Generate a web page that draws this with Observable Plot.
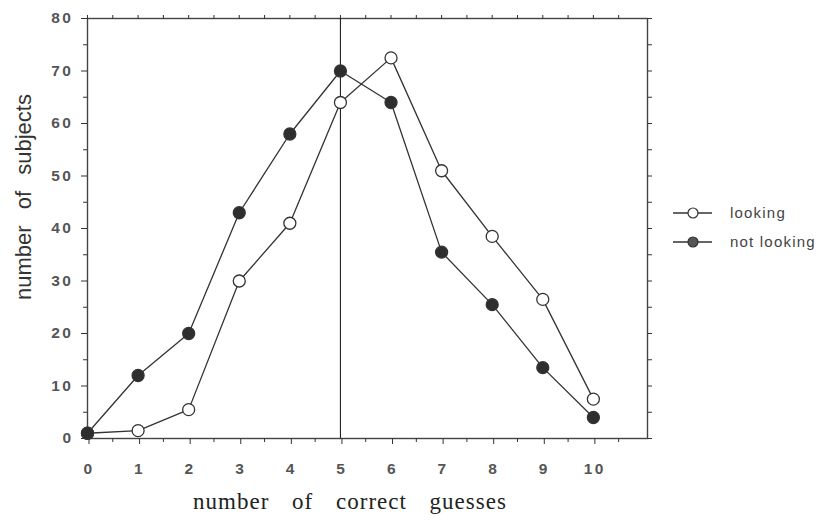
<!DOCTYPE html>
<html>
<head>
<meta charset="utf-8">
<script src="https://cdn.jsdelivr.net/npm/d3@7"></script>
<script src="https://cdn.jsdelivr.net/npm/@observablehq/plot@0.6"></script>
<style>
  html, body { margin: 0; padding: 0; background: #fff; }
  #wrap { position: relative; width: 817px; height: 520px; overflow: hidden; }
  #wrap svg.plot text { letter-spacing: 2.5px; }
  .lab { position: absolute; white-space: nowrap; color: #222; }
  .xlab { font-family: "Liberation Serif", "Times New Roman", serif; font-size: 23px; word-spacing: 16px; letter-spacing: 1px; }
  .ylab { font-family: "Liberation Sans", Arial, sans-serif; font-size: 22px; word-spacing: 10px; color: #333; }
</style>
</head>
<body>
<div id="wrap"></div>
<script>
const guesses = [0, 1, 2, 3, 4, 5, 6, 7, 8, 9, 10];
const looking = [1, 1.5, 5.5, 30, 41, 64, 72.5, 51, 38.5, 26.5, 7.5];
const notLooking = [1, 12, 20, 43, 58, 70, 64, 35.5, 25.5, 13.5, 4];
const seriesNames = ["looking", "not looking"];
const xTickLabels = [0, 1, 2, 3, 4, 5, 6, 7, 8, 9, 10];
const yTickLabels = [0, 10, 20, 30, 40, 50, 60, 70, 80];
const chanceLevel = [5];

const rowsLooking = guesses.map((g, i) => ({g, v: looking[i]}));
const rowsNot = guesses.map((g, i) => ({g, v: notLooking[i]}));
const halfTicks = d3.range(0, 11.01, 0.5).filter(d => d % 1 !== 0);
const yMinor = d3.range(5, 80, 10);
const yFive = d3.range(0, 80.1, 5);

const ink = "#333";
const tickFont = {fontFamily: "Liberation Sans, Arial, sans-serif", fontSize: 15.5, fontWeight: "bold", fill: "#555"};

const chart = Plot.plot({
  width: 817,
  height: 520,
  marginLeft: 87,
  marginRight: 170,
  marginTop: 18,
  marginBottom: 82,
  x: {domain: [0, 11.07]},
  y: {domain: [0, 80]},
  style: {background: "white", color: ink},
  marks: [
    Plot.frame({stroke: "#444", strokeWidth: 1.4}),
    Plot.axisY({ticks: yTickLabels, tickSize: 6, tickPadding: 8, label: null, ...tickFont}),
    Plot.axisY({ticks: yMinor, tickSize: 4, text: null, label: null}),
    Plot.axisY({anchor: "right", ticks: yFive, tickSize: 4, text: null, label: null}),
    Plot.axisX({ticks: xTickLabels, tickSize: 6, tickPadding: 18, label: null, dx: 1.5, ...tickFont}),
    Plot.axisX({ticks: halfTicks, tickSize: 4, text: null, label: null}),
    Plot.axisX({anchor: "top", ticks: xTickLabels.concat(halfTicks), tickSize: 4, text: null, label: null}),
    Plot.ruleX(chanceLevel, {stroke: "#222", strokeWidth: 1.1}),
    Plot.line(rowsLooking, {x: "g", y: "v", stroke: ink, strokeWidth: 1.3}),
    Plot.line(rowsNot, {x: "g", y: "v", stroke: ink, strokeWidth: 1.3}),
    Plot.dot(rowsLooking, {x: "g", y: "v", r: 6, fill: "white", stroke: ink, strokeWidth: 1.3}),
    Plot.dot(rowsNot, {x: "g", y: "v", r: 6, fill: "#2e2e2e", stroke: ink, strokeWidth: 1.3})
  ]
});
chart.classList.add("plot");
const wrap = document.getElementById("wrap");
wrap.appendChild(chart);

// axis titles
const xl = document.createElement("div");
xl.className = "lab xlab";
xl.textContent = "number of correct guesses";
xl.style.left = "350px"; xl.style.top = "489px"; xl.style.transform = "translateX(-50%)";
wrap.appendChild(xl);

const yl = document.createElement("div");
yl.className = "lab ylab";
yl.textContent = "number of subjects";
yl.style.left = "24px"; yl.style.top = "197px"; yl.style.transform = "translate(-50%, -50%) rotate(-90deg)";
wrap.appendChild(yl);

// legend
const leg = d3.select(wrap).append("svg")
  .attr("width", 153).attr("height", 70)
  .style("position", "absolute").style("left", "664px").style("top", "192px");
const items = leg.selectAll("g").data(seriesNames).join("g")
  .attr("transform", (d, i) => `translate(0, ${21 + i * 29})`);
items.append("line").attr("x1", 9).attr("x2", 48).attr("stroke", ink).attr("stroke-width", 1.3);
items.append("circle").attr("cx", 29).attr("r", 5)
  .attr("fill", (d, i) => i === 0 ? "white" : "#555").attr("stroke", ink).attr("stroke-width", 1.2);
items.append("text").attr("x", 66).attr("dy", "0.35em").text(d => d)
  .attr("font-family", "Liberation Sans, Arial, sans-serif").attr("font-size", 15).attr("letter-spacing", 1.2).attr("fill", "#444");
</script>
</body>
</html>
